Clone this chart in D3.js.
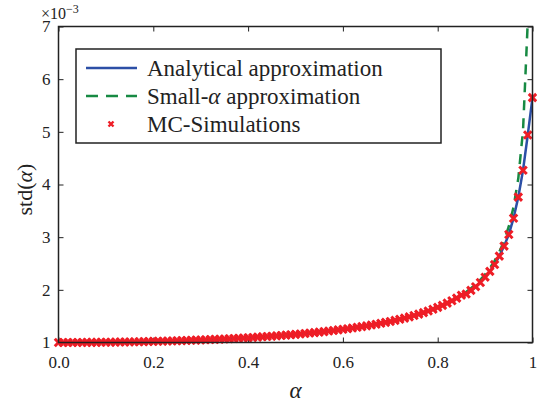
<!DOCTYPE html>
<html>
<head>
<meta charset="utf-8">
<script src="https://cdn.jsdelivr.net/npm/d3@7"></script>
<style>
  body { margin: 0; background: #fff; }
  svg { display: block; }
</style>
</head>
<body>
<svg width="537" height="407"></svg>
<script>
// alpha grid, step 0.01 from 0 to 1
var alphas = d3.range(0, 101).map(i => i / 100)

// std(alpha) x 1e-3, analytical approximation
var analytical = [
  1.000, 1.000, 1.000, 1.000, 1.001, 1.001, 1.002, 1.002, 1.003, 1.004,
  1.005, 1.006, 1.007, 1.009, 1.010, 1.011, 1.013, 1.015, 1.017, 1.019,
  1.021, 1.023, 1.025, 1.028, 1.030, 1.033, 1.036, 1.039, 1.042, 1.045,
  1.048, 1.052, 1.056, 1.059, 1.063, 1.068, 1.072, 1.076, 1.081, 1.086,
  1.091, 1.096, 1.102, 1.108, 1.114, 1.120, 1.126, 1.133, 1.140, 1.147,
  1.155, 1.163, 1.171, 1.179, 1.188, 1.197, 1.207, 1.217, 1.228, 1.239,
  1.250, 1.262, 1.275, 1.288, 1.302, 1.316, 1.331, 1.347, 1.364, 1.382,
  1.400, 1.420, 1.441, 1.463, 1.487, 1.512, 1.539, 1.567, 1.598, 1.631,
  1.667, 1.705, 1.747, 1.793, 1.843, 1.898, 1.920, 1.990, 2.060, 2.140,
  2.240, 2.350, 2.480, 2.640, 2.830, 3.050, 3.360, 3.760, 4.270, 4.940,
  5.650
]

// small-alpha approximation: same as analytical up to 0.85, then these (0.86 .. 0.99)
var smallAlphaTail = [1.960, 2.028, 2.105, 2.192, 2.294, 2.412, 2.551, 2.721, 2.931, 3.203, 3.571, 4.113, 5.025, 7.089]

// Monte-Carlo simulation points (they sit on the analytical curve)
var mcSim = analytical.slice()

var xTicks = [0, 0.2, 0.4, 0.6, 0.8, 1]
var xTickLabels = ["0.0", "0.2", "0.4", "0.6", "0.8", "1"]
var yTicks = [1, 2, 3, 4, 5, 6, 7]

var smallAlpha = analytical.slice(0, 86).concat(smallAlphaTail)

var width = 537, height = 407
var margin = {top: 26.5, right: 4.5, bottom: 64.5, left: 58.5}
var serif = "'Liberation Serif', 'Times New Roman', serif"
var blue = "#2c4fa6", green = "#178a43", red = "#ee1d26"

var x = d3.scaleLinear().domain([0, 1]).range([margin.left, width - margin.right])
var y = d3.scaleLinear().domain([1, 7]).range([height - margin.bottom, margin.top])

var svg = d3.select("svg").style("font-family", serif)

svg.append("defs").append("clipPath").attr("id", "plotclip")
  .append("rect")
  .attr("x", x(0)).attr("y", y(7))
  .attr("width", x(1) - x(0)).attr("height", y(1) - y(7))

// axes with inward ticks, MATLAB box style
var tl = 5
svg.append("g")
  .attr("transform", `translate(0,${y(1)})`)
  .call(d3.axisBottom(x).tickValues(xTicks).tickSizeInner(-tl).tickSizeOuter(0).tickPadding(13)
    .tickFormat((d, i) => xTickLabels[i]))
  .call(g => g.select(".domain").remove())
svg.append("g")
  .attr("transform", `translate(0,${y(7)})`)
  .call(d3.axisTop(x).tickValues(xTicks).tickSizeInner(-tl).tickSizeOuter(0).tickFormat(""))
  .call(g => g.select(".domain").remove())
svg.append("g")
  .attr("transform", `translate(${x(0)},0)`)
  .call(d3.axisLeft(y).tickValues(yTicks).tickSizeInner(-tl).tickSizeOuter(0).tickPadding(8)
    .tickFormat(d3.format("d")))
  .call(g => g.select(".domain").remove())
svg.append("g")
  .attr("transform", `translate(${x(1)},0)`)
  .call(d3.axisRight(y).tickValues(yTicks).tickSizeInner(-tl).tickSizeOuter(0).tickFormat(""))
  .call(g => g.select(".domain").remove())

svg.selectAll(".tick line").attr("stroke", "#222").attr("stroke-width", 1)
svg.selectAll(".tick text").attr("font-size", 17).attr("font-family", serif).attr("fill", "#222")

// lines
var line = d3.line().x((d, i) => x(alphas[i])).y(d => y(d))
var plot = svg.append("g").attr("clip-path", "url(#plotclip)")

plot.append("path")
  .datum(analytical)
  .attr("fill", "none")
  .attr("stroke", blue)
  .attr("stroke-width", 2.5)
  .attr("d", line)

plot.append("path")
  .datum(smallAlpha)
  .attr("fill", "none")
  .attr("stroke", green)
  .attr("stroke-width", 2.5)
  .attr("stroke-dasharray", "10,8")
  .attr("d", line)

var cross = d3.symbol(d3.symbolX, 38)
svg.append("g")
  .selectAll("path")
  .data(mcSim)
  .join("path")
  .attr("transform", (d, i) => `translate(${x(alphas[i])},${y(d)})`)
  .attr("d", cross)
  .attr("fill", "none")
  .attr("stroke", red)
  .attr("stroke-width", 3)

// box
svg.append("rect")
  .attr("x", x(0)).attr("y", y(7))
  .attr("width", x(1) - x(0)).attr("height", y(1) - y(7))
  .attr("fill", "none").attr("stroke", "#222").attr("stroke-width", 1.5)

// exponent
var ex = svg.append("text").attr("x", 41).attr("y", 19).attr("font-size", 16).attr("fill", "#222")
ex.append("tspan").text("×10")
ex.append("tspan").attr("dy", -6).attr("font-size", 12).text("−3")

// axis labels
svg.append("text")
  .attr("x", (x(0) + x(1)) / 2).attr("y", 398)
  .attr("text-anchor", "middle").attr("font-size", 23).attr("font-style", "italic")
  .attr("fill", "#222")
  .text("α")

var yl = svg.append("text")
  .attr("transform", `translate(32,${(y(1) + y(7)) / 2 + 5}) rotate(-90)`)
  .attr("text-anchor", "middle").attr("font-size", 22).attr("fill", "#222")
yl.append("tspan").text("std(")
yl.append("tspan").attr("font-style", "italic").text("α")
yl.append("tspan").text(")")

// legend
var legend = svg.append("g")
legend.append("rect")
  .attr("x", 76).attr("y", 49).attr("width", 365).attr("height", 94)
  .attr("fill", "#fff").attr("stroke", "#222").attr("stroke-width", 1.5)

var rows = [
  {type: "line", color: blue, dash: null, parts: [["Analytical approximation", false]]},
  {type: "line", color: green, dash: "12,8", parts: [["Small-", false], ["α", true], [" approximation", false]]},
  {type: "mark", color: red, parts: [["MC-Simulations", false]]}
]
rows.forEach((r, i) => {
  var cy = 68 + i * 28
  if (r.type === "line") {
    legend.append("line")
      .attr("x1", 86).attr("x2", 137).attr("y1", cy).attr("y2", cy)
      .attr("stroke", r.color).attr("stroke-width", 2.5)
      .attr("stroke-dasharray", r.dash)
  } else {
    legend.append("path")
      .attr("transform", `translate(111,${cy})`)
      .attr("d", d3.symbol(d3.symbolX, 18))
      .attr("fill", "none").attr("stroke", r.color).attr("stroke-width", 2.4)
  }
  var t = legend.append("text").attr("x", 147).attr("y", cy + 7.5)
    .attr("font-size", 23).attr("fill", "#222")
  r.parts.forEach(p => t.append("tspan").attr("font-style", p[1] ? "italic" : null).text(p[0]))
})
</script>
</body>
</html>
